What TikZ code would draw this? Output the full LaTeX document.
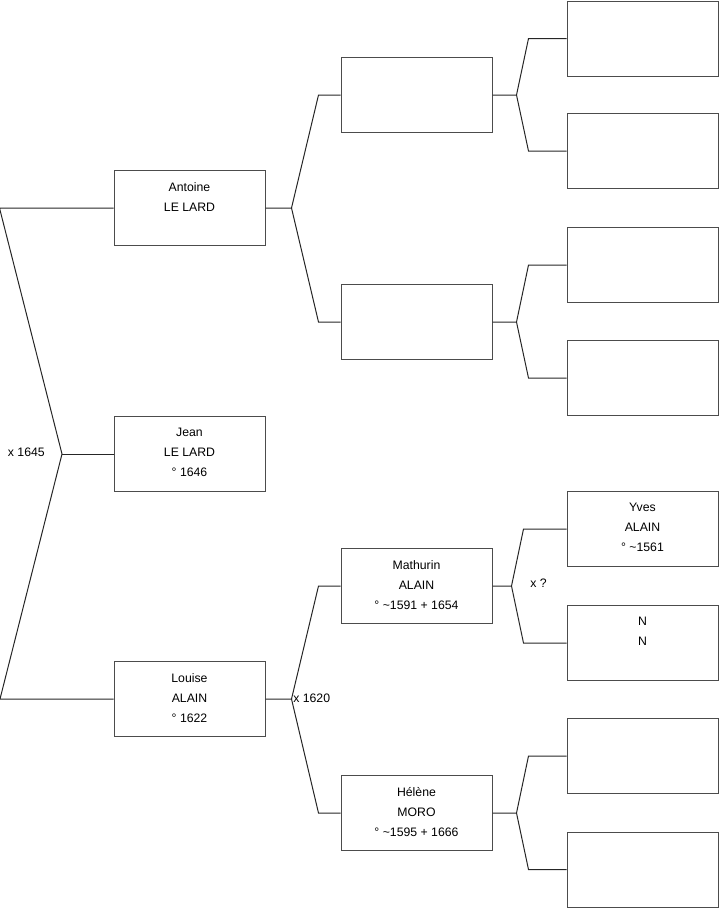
\documentclass[tikz,border=0pt]{standalone}
\usepackage{fontspec}
\setmainfont{Liberation Sans}
\usetikzlibrary{positioning,calc}
\tikzset{
  pers/.style={draw=black!70, line width=0.75pt, minimum width=113.25pt,
               minimum height=56.25pt, inner sep=0pt},
  lbl/.style={anchor=north, inner sep=0pt, yshift=-9.2pt, align=center},
  link/.style={line width=0.75pt, black!85},
  note/.style={inner sep=0pt},
}

\begin{document}
\begin{tikzpicture}[x=0.75pt, y=-0.75pt, font=\fontsize{9.2}{15}\selectfont]
    \useasboundingbox (0,0) rectangle (719,908);

    % child and parents
    \node[pers, label={[lbl]north:Antoine\\LE LARD}] (antoine) at (189.5,208) {};
    \node[pers, label={[lbl]north:Jean\\LE LARD\\° 1646}] (jean) at (189.5,454) {};
    \node[pers, label={[lbl]north:Louise\\ALAIN\\° 1622}] (louise) at (189.5,699) {};

    % grandparents
    \node[pers] (g2a) at (416.5,95) {};
    \node[pers] (g2b) at (416.5,322) {};
    \node[pers, label={[lbl]north:Mathurin\\ALAIN\\° \textasciitilde1591 + 1654}] (mathurin) at (416.5,586) {};
    \node[pers, label={[lbl]north:Hélène\\MORO\\° \textasciitilde1595 + 1666}] (helene) at (416.5,813) {};

    % great-grandparents
    \node[pers] (g3a) at (642.5,38.5) {};
    \node[pers] (g3b) at (642.5,151) {};
    \node[pers] (g3c) at (642.5,265) {};
    \node[pers] (g3d) at (642.5,378) {};
    \node[pers, label={[lbl]north:Yves\\ALAIN\\° \textasciitilde1561}] (yves) at (642.5,529) {};
    \node[pers, label={[lbl]north:N\\N}] (nn) at (642.5,643) {};
    \node[pers] (g3g) at (642.5,756) {};
    \node[pers] (g3h) at (642.5,869.5) {};

    % marriage of Jean's parents
    \coordinate (k1) at (62,454);
    \draw[link] (antoine.west) -- ++(-114,0) -- (k1) -- (0,699) -- (louise.west);
    \draw[link] (k1) -- (jean.west);
    \node[note, anchor=east] (m1645) at (45,452) {x 1645};

    % forks to the parents
    \draw[link] (antoine.east) -- ++(26,0) coordinate (kA)
      -- ($(g2a.west)+(-22,0)$) -- (g2a.west);
    \draw[link] (kA) -- ($(g2b.west)+(-22,0)$) -- (g2b.west);
    \draw[link] (louise.east) -- ++(26,0) coordinate (kL)
      -- ($(mathurin.west)+(-22,0)$) -- (mathurin.west);
    \draw[link] (kL) -- ($(helene.west)+(-22,0)$) -- (helene.west);
    \node[note, anchor=west] (m1620) at (293,698) {x 1620};

    \draw[link] (g2a.east) -- ++(24,0) coordinate (kB)
      -- ($(g3a.west)+(-38,0)$) -- (g3a.west);
    \draw[link] (kB) -- ($(g3b.west)+(-38,0)$) -- (g3b.west);
    \draw[link] (g2b.east) -- ++(24,0) coordinate (kC)
      -- ($(g3c.west)+(-38,0)$) -- (g3c.west);
    \draw[link] (kC) -- ($(g3d.west)+(-38,0)$) -- (g3d.west);
    \draw[link] (mathurin.east) -- ++(19,0) coordinate (kM)
      -- ($(yves.west)+(-43,0)$) -- (yves.west);
    \draw[link] (kM) -- ($(nn.west)+(-43,0)$) -- (nn.west);
    \node[note, anchor=west] (mq) at (530,583) {x ?};
    \draw[link] (helene.east) -- ++(24,0) coordinate (kH)
      -- ($(g3g.west)+(-38,0)$) -- (g3g.west);
    \draw[link] (kH) -- ($(g3h.west)+(-38,0)$) -- (g3h.west);
\end{tikzpicture}
\end{document}
